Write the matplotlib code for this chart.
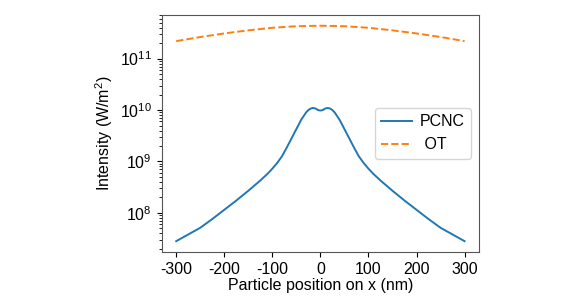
import numpy as np
import matplotlib
matplotlib.use("Agg")
import matplotlib.pyplot as plt

plt.rcParams['font.family'] = ['Liberation Sans', 'DejaVu Sans']
plt.rcParams['mathtext.fontset'] = 'custom'
plt.rcParams['mathtext.rm'] = 'Liberation Sans'

# particle position (nm) and log10 intensity
x_pcnc = [-300, -275, -250, -225, -200, -175, -150, -125, -110, -100, -90, -80, -70, -60, -50, -40, -30, -25, -20, -15, -10, -5, 0,
          5, 10, 15, 20, 25, 30, 40, 50, 60, 70, 80, 90, 100, 110, 125, 150, 175, 200, 225, 250, 275, 300]
log_pcnc = [7.45, 7.58, 7.71, 7.88, 8.06, 8.24, 8.43, 8.63, 8.76, 8.86, 8.97, 9.10, 9.27, 9.45, 9.63, 9.81, 9.95, 10.00, 10.03, 10.04, 10.03, 10.00, 9.99,
            10.00, 10.03, 10.04, 10.03, 10.00, 9.95, 9.81, 9.63, 9.45, 9.27, 9.10, 8.97, 8.86, 8.76, 8.63, 8.43, 8.24, 8.06, 7.88, 7.71, 7.58, 7.45]

x_ot = [-300, -250, -200, -150, -100, -50, 0, 50, 100, 150, 200, 250, 300]
log_ot = [11.34, 11.42, 11.49, 11.55, 11.60, 11.63, 11.64, 11.63, 11.60, 11.55, 11.49, 11.42, 11.34]

pcnc = 10 ** np.array(log_pcnc)
ot = 10 ** np.array(log_ot)

fig = plt.figure(figsize=(5.82, 3.05), dpi=100)
ax = fig.add_axes([0.278, 0.174, 0.545, 0.777])

ax.plot(x_pcnc, pcnc, color='#1f77b4', lw=1.4, label='PCNC')
ax.plot(x_ot, ot, color='#ff7f0e', lw=1.4, ls='--', label=' OT')
ax.set_yscale('log')

ax.set_xticks([-300, -200, -100, 0, 100, 200, 300])
ax.set_xticklabels(['-300', '-200', '-100', '0', '100', '200', '300'])
ax.tick_params(labelsize=11.5)
ax.set_xlabel('Particle position on x (nm)', fontsize=11.5, labelpad=1)
ax.set_ylabel('Intensity (W/m$^2$)', fontsize=11.5)

for s in ax.spines.values():
    s.set_color('#555555')

ax.legend(loc='center right', fontsize=11.5, handlelength=1.9, handletextpad=0.5)

fig.savefig('out.png', dpi=100)
